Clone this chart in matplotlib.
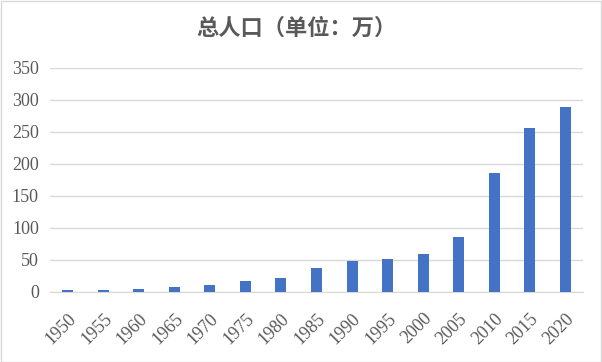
import matplotlib
matplotlib.use("Agg")
import matplotlib.pyplot as plt
from matplotlib.patches import Rectangle

# data
years = ["1950", "1955", "1960", "1965", "1970", "1975", "1980", "1985",
         "1990", "1995", "2000", "2005", "2010", "2015", "2020"]
population = [3, 3, 4.7, 7.8, 11.5, 17, 22, 37.5,
              48.4, 51.6, 59.4, 86, 186, 256, 289]
y_ticks = [0, 50, 100, 150, 200, 250, 300, 350]

title = "总人口（单位：万）"
bar_color = "#4472C4"
grid_color = "#D9D9D9"
text_color = "#595959"

fig = plt.figure(figsize=(6.02, 3.62), dpi=100)
ax = fig.add_axes([50 / 602, 1 - 292 / 362, 533 / 602, 224 / 362])

x = range(len(years))
ax.bar(x, population, width=0.31, color=bar_color, zorder=3)

ax.set_xlim(-0.5, len(years) - 0.5)
ax.set_ylim(0, 350)
ax.set_yticks(y_ticks)
ax.set_xticks(list(x))
ax.set_xticklabels(years, rotation=45, ha="right", rotation_mode="anchor")

ax.grid(axis="y", color=grid_color, linewidth=1, zorder=0)
for side in ["top", "right", "left"]:
    ax.spines[side].set_visible(False)
ax.spines["bottom"].set_color(grid_color)
ax.tick_params(axis="both", length=0, colors=text_color, labelsize=13)
ax.tick_params(axis="y", pad=8)
ax.tick_params(axis="x", pad=13)
for lab in ax.get_xticklabels() + ax.get_yticklabels():
    lab.set_fontfamily("Liberation Serif")

fig.text(0.492, 1 - 28 / 362, title, ha="center", va="center",
         fontsize=16, fontweight="bold", color=text_color,
         family=["Noto Sans CJK SC", "DejaVu Sans"])

# outer border
fig.add_artist(Rectangle((0.5 / 602, 0.5 / 362), 600.5 / 602, 360.5 / 362,
                         transform=fig.transFigure, fill=False,
                         edgecolor="#D9D9D9", linewidth=1))

fig.savefig("out.png", dpi=100)
